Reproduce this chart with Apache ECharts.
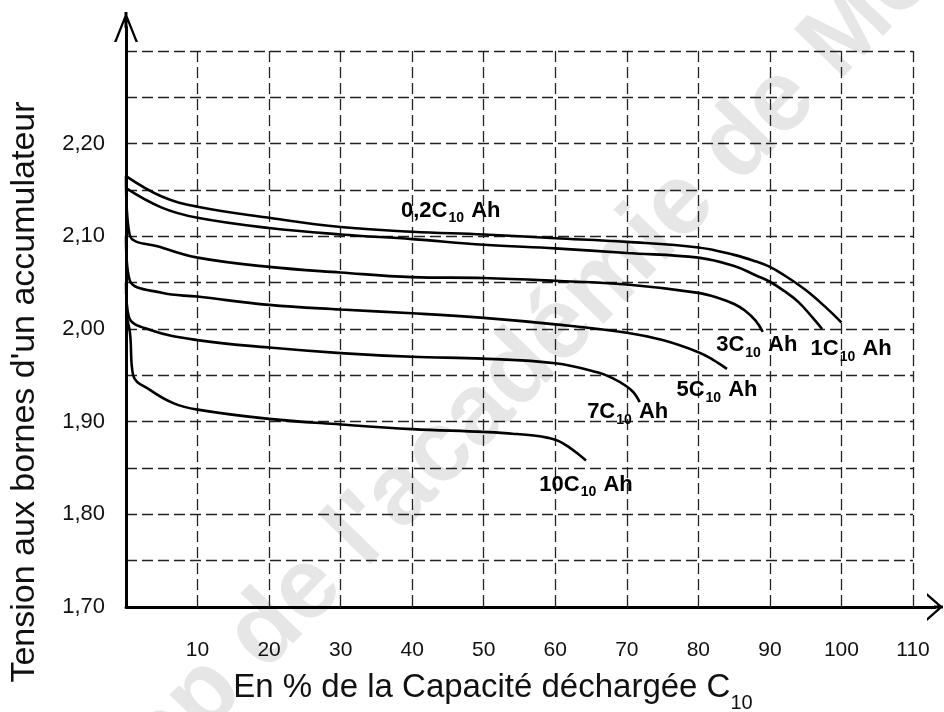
<!DOCTYPE html>
<html>
<head>
<meta charset="utf-8">
<script src="https://cdn.jsdelivr.net/npm/echarts@6/dist/echarts.min.js"></script>
<style>
html, body { margin: 0; padding: 0; background: #fff; }
#main { width: 944px; height: 712px; }
</style>
</head>
<body>
<div id="main"></div>
<script>
// courbes de décharge : tension (V) en fonction du % de C10 déchargé
var names = ['0,2C', '1C', '3C', '5C', '7C', '10C']

var x02 = [0, 5, 10, 20, 30, 40, 50, 60, 70, 80, 85, 88, 90, 92, 95, 98, 100]
var u02 = [2.165, 2.143, 2.132, 2.120, 2.110, 2.105, 2.102, 2.098, 2.094, 2.088, 2.080, 2.073, 2.067, 2.058, 2.042, 2.022, 2.007]
var x1 = [0, 5, 10, 20, 30, 40, 50, 60, 70, 80, 85, 88, 90, 92, 94, 96, 97.3]
var u1 = [2.152, 2.131, 2.120, 2.109, 2.102, 2.097, 2.091, 2.087, 2.082, 2.077, 2.068, 2.058, 2.051, 2.041, 2.029, 2.012, 2.000]
var x3 = [0, 0.5, 5, 10, 20, 30, 40, 50, 60, 70, 80, 83, 85, 86.5, 88, 89]
var u3 = [2.165, 2.102, 2.088, 2.077, 2.067, 2.061, 2.056, 2.055, 2.052, 2.048, 2.039, 2.033, 2.027, 2.020, 2.009, 1.997]
var x5 = [0, 0.5, 5, 10, 20, 30, 40, 50, 60, 70, 75, 80, 82, 84]
var u5 = [2.100, 2.053, 2.039, 2.035, 2.026, 2.021, 2.017, 2.012, 2.005, 1.996, 1.988, 1.975, 1.967, 1.957]
var x7 = [0, 0.4, 3.4, 10, 20, 30, 40, 50, 60, 66, 68, 70, 71, 71.8]
var u7 = [2.050, 2.013, 1.999, 1.988, 1.980, 1.974, 1.970, 1.968, 1.963, 1.953, 1.947, 1.938, 1.931, 1.921]
var x10 = [0, 0.55, 1.0, 3.4, 6.6, 10, 20, 30, 40, 50, 54, 57, 59, 60.5, 62, 63.2, 64.3]
var u10 = [2.015, 1.996, 1.950, 1.934, 1.920, 1.913, 1.903, 1.897, 1.892, 1.889, 1.887, 1.885, 1.8825, 1.879, 1.872, 1.865, 1.858]

var xs = [x02, x1, x3, x5, x7, x10]
var us = [u02, u1, u3, u5, u7, u10]

var font = 'Liberation Sans, Arial, sans-serif'

// où poser l'étiquette de chaque courbe (indice du point + décalage en px)
var labelAt = [
    { idx: 6, off: [-33, -24] },
    { idx: -1, off: [29, 20] },
    { idx: -1, off: [-6, 13] },
    { idx: -1, off: [-10, 21] },
    { idx: -1, off: [-12, 10] },
    { idx: -1, off: [0, 24] }
]

var richLbl = {
    b: { fontSize: 22, fontWeight: 'bold', fontFamily: font, color: '#000', lineHeight: 30 },
    s: { fontSize: 14, fontWeight: 'bold', fontFamily: font, color: '#000', lineHeight: 14, verticalAlign: 'bottom', padding: [0, 1, 0, 1] }
}

var series = names.map(function (n, k) {
    var pts = xs[k].map(function (x, i) { return [x, us[k][i]] })
    var li = labelAt[k].idx < 0 ? pts.length - 1 : labelAt[k].idx
    return {
        name: n,
        type: 'line',
        xAxisIndex: 0,
        yAxisIndex: 0,
        data: pts,
        symbol: 'none',
        smooth: 0.4,
        lineStyle: { color: '#000', width: 2.6 },
        markPoint: {
            symbol: 'circle',
            symbolSize: 0,
            silent: true,
            label: {
                show: true,
                position: 'inside',
                color: '#000',
                offset: labelAt[k].off,
                formatter: '{b|' + n + '}{s|10}{b| Ah}',
                rich: richLbl
            },
            data: [{ coord: pts[li] }]
        }
    }
})

var yArrow = 'path://M12,0L24,30L21.5,30L12,6L2.5,30L0,30Z M10.5,0L13.5,0L13.5,16L10.5,16Z'
var xArrow = 'path://M14,0L28,16L25,16L14,3.5L3,16L0,16Z M12.5,0L15.5,0L15.5,9L12.5,9Z'

var gridLine = { show: true, lineStyle: { type: [11, 5], color: '#222', width: 1.3 } }

var myChart = echarts.init(document.getElementById('main'), null, { renderer: 'canvas' })

var option = {
    animation: false,
    backgroundColor: '#fff',
    grid: [
        { left: 126, right: 31, top: 51, bottom: 105, containLabel: false, outerBoundsMode: 'none' },
        { left: 126, right: 9, top: 27, bottom: 105, containLabel: false, outerBoundsMode: 'none' }
    ],
    xAxis: [{
        gridIndex: 0,
        type: 'value',
        min: 0,
        max: 110,
        interval: 10,
        axisLine: { show: false },
        axisTick: { show: false },
        axisLabel: {
            margin: 33,
            fontSize: 21,
            fontFamily: font,
            color: '#111',
            formatter: function (v) { return v === 0 ? '' : String(v) }
        },
        splitLine: gridLine
    }, {
        gridIndex: 1,
        type: 'value',
        min: 0,
        max: 1,
        axisLine: { show: true, symbol: ['none', xArrow], symbolSize: [28, 16], lineStyle: { color: '#000', width: 3 } },
        axisTick: { show: false },
        axisLabel: { show: false },
        splitLine: { show: false }
    }],
    yAxis: [{
        gridIndex: 0,
        type: 'value',
        min: 1.70,
        max: 2.30,
        interval: 0.05,
        axisLine: { show: false },
        axisTick: { show: false },
        axisLabel: {
            margin: 21,
            fontSize: 22,
            fontFamily: font,
            color: '#111',
            formatter: function (v) {
                var r = Math.round(v * 100)
                if (r % 10 !== 0 || r > 220) return ''
                return (r / 100).toFixed(2).replace('.', ',')
            }
        },
        splitLine: gridLine
    }, {
        gridIndex: 1,
        type: 'value',
        min: 0,
        max: 1,
        axisLine: { show: true, symbol: ['none', yArrow], symbolSize: [24, 30], lineStyle: { color: '#000', width: 3 } },
        axisTick: { show: false },
        axisLabel: { show: false },
        splitLine: { show: false }
    }],
    graphic: {
        elements: [{
            type: 'text',
            z: -1,
            x: 530,
            y: 360,
            rotation: 0.8,
            silent: true,
            style: {
                text: "pp de l'académie de Mo",
                font: 'bold 100px ' + font,
                fill: '#e6e6e6',
                align: 'center',
                verticalAlign: 'middle',
                textAlign: 'center',
                textVerticalAlign: 'middle'
            }
        }, {
            type: 'text',
            x: 25,
            y: 392,
            rotation: Math.PI / 2,
            style: {
                text: "Tension aux bornes d'un accumulateur",
                font: '34px ' + font,
                fill: '#111',
                align: 'center',
                verticalAlign: 'middle',
                textAlign: 'center',
                textVerticalAlign: 'middle'
            }
        }, {
            type: 'text',
            x: 493,
            y: 688,
            style: {
                text: '{m|En % de la Capacité déchargée C}{s|10}',
                align: 'center',
                verticalAlign: 'middle',
                textAlign: 'center',
                textVerticalAlign: 'middle',
                rich: {
                    m: { fontSize: 33, fontFamily: font, fill: '#111', lineHeight: 50 },
                    s: { fontSize: 20, fontFamily: font, fill: '#111', lineHeight: 16, verticalAlign: 'bottom' }
                }
            }
        }]
    },
    series: series
}

myChart.setOption(option)
</script>
</body>
</html>
